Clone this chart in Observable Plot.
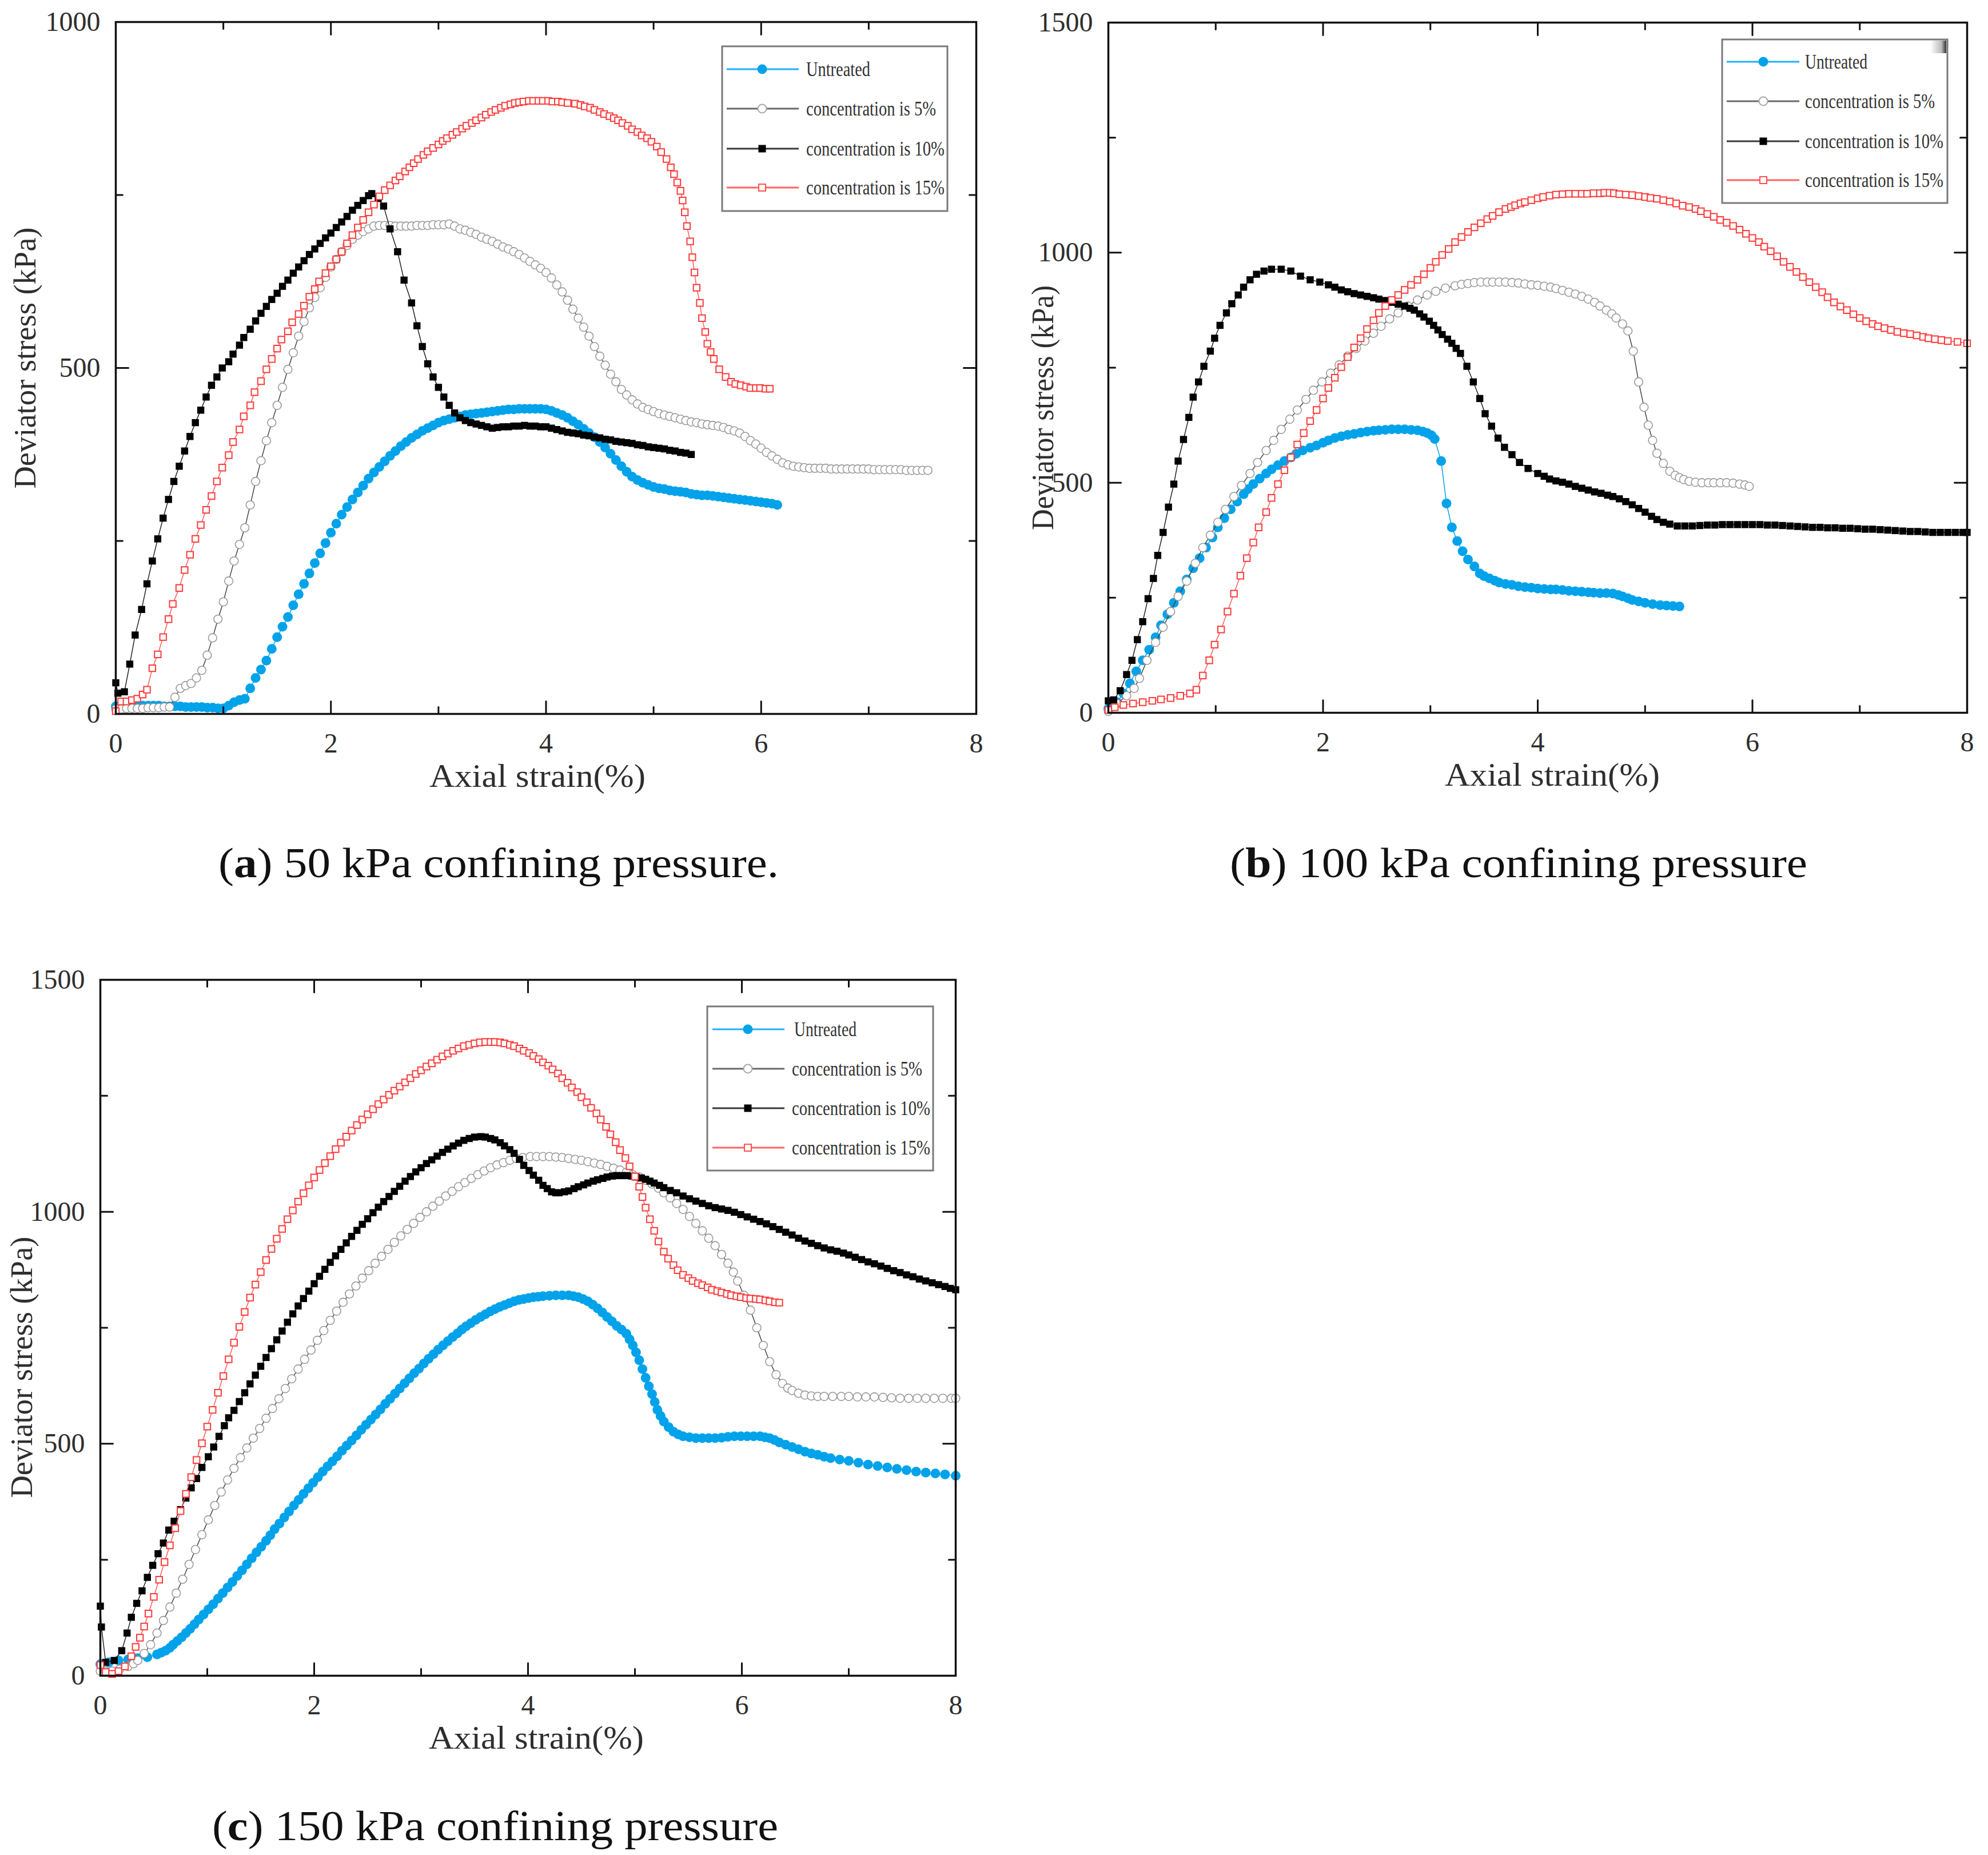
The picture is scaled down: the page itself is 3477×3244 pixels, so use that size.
<!DOCTYPE html>
<html><head><meta charset="utf-8">
<script src="https://cdn.jsdelivr.net/npm/d3@7"></script>
<script src="https://cdn.jsdelivr.net/npm/@observablehq/plot@0.6"></script>
<style>
html,body{margin:0;padding:0;background:#fff;}
#root{position:relative;width:3477px;height:3244px;background:#fff;overflow:hidden;}
.panel{position:absolute;}
#overlay{position:absolute;left:0;top:0;}
</style></head><body>
<div id="root">
<div id="pa" class="panel" style="left:0;top:0;width:1767px"></div>
<div id="pb" class="panel" style="left:1738px;top:0;width:1739px"></div>
<div id="pc" class="panel" style="left:0;top:1650px;width:1731px"></div>
<svg id="overlay" width="3477" height="3244" xmlns="http://www.w3.org/2000/svg"></svg>
</div>
<script>
// ---------- categories & tick labels ----------
const seriesNames = ["Untreated", "concentration is 5%", "concentration is 10%", "concentration is 15%"];
const captions = ["50 kPa confining pressure.", "100 kPa confining pressure", "150 kPa confining pressure"];
const captionLetters = ["a", "b", "c"];
const xLabel = "Axial strain(%)";
const yLabel = "Deviator stress (kPa)";
const xMajor = [0, 2, 4, 6, 8];
const xMinor = [1, 3, 5, 7];
const yMajorA = [0, 500, 1000];
const yMinorA = [250, 750];
const yMajorBC = [0, 500, 1000, 1500];
const yMinorBC = [250, 750, 1250];

// ---------- (a) 50 kPa ----------
const aU = [[0,11],[0.05,12],[0.1,12],[0.15,12],[0.2,12],[0.25,12],[0.3,12],[0.35,12],[0.4,12],[0.45,11],[0.5,11],[0.55,11],[0.6,11],[0.65,10],[0.7,10],[0.75,10],[0.8,10],[0.85,9],[0.9,9],[0.95,8],[1.0,8],[1.05,12],[1.1,17],[1.15,20],[1.2,22],[1.25,37],[1.3,52],[1.35,64],[1.4,77],[1.45,94],[1.5,111],[1.55,126],[1.6,140],[1.65,157],[1.7,173],[1.75,188],[1.8,203],[1.85,218],[1.9,232],[1.95,247],[2.0,262],[2.05,275],[2.1,288],[2.15,299],[2.2,310],[2.25,320],[2.3,330],[2.35,340],[2.4,349],[2.45,357],[2.5,365],[2.55,373],[2.6,380],[2.65,387],[2.7,393],[2.75,399],[2.8,404],[2.85,409],[2.9,413],[2.95,417],[3.0,421],[3.05,424],[3.1,426],[3.15,428],[3.2,430],[3.25,432],[3.3,433],[3.35,434],[3.4,435],[3.45,436],[3.5,437],[3.55,438],[3.6,439],[3.65,440],[3.7,440],[3.75,441],[3.8,441],[3.85,441],[3.9,441],[3.95,441],[4.0,440],[4.05,438],[4.1,435],[4.15,432],[4.2,428],[4.25,423],[4.3,418],[4.35,412],[4.4,406],[4.45,400],[4.5,393],[4.55,385],[4.6,376],[4.65,367],[4.7,358],[4.75,350],[4.8,343],[4.85,338],[4.9,334],[4.95,331],[5.0,328],[5.05,326],[5.1,325],[5.15,323],[5.2,322],[5.25,321],[5.3,320],[5.35,318],[5.4,317],[5.45,316],[5.5,316],[5.55,315],[5.6,314],[5.65,313],[5.7,312],[5.75,311],[5.8,310],[5.85,309],[5.9,308],[5.95,307],[6.0,306],[6.05,305],[6.1,304],[6.15,302]];
const a5 = [[0,7],[0.05,7],[0.1,8],[0.15,8],[0.2,8],[0.25,8],[0.3,9],[0.35,9],[0.4,9],[0.45,10],[0.5,10],[0.55,24],[0.6,37],[0.65,41],[0.7,44],[0.75,52],[0.8,63],[0.85,85],[0.9,110],[0.95,137],[1.0,162],[1.05,192],[1.1,221],[1.15,245],[1.2,269],[1.25,302],[1.3,336],[1.35,366],[1.4,395],[1.45,421],[1.5,446],[1.55,472],[1.6,498],[1.65,522],[1.7,546],[1.75,567],[1.8,587],[1.85,602],[1.9,616],[1.95,631],[2.0,646],[2.05,657],[2.1,668],[2.15,677],[2.2,686],[2.25,692],[2.3,697],[2.35,701],[2.4,705],[2.45,706],[2.5,706],[2.55,706],[2.6,705],[2.65,705],[2.7,705],[2.75,705],[2.8,706],[2.85,706],[2.9,706],[2.95,707],[3.0,707],[3.05,707],[3.1,708],[3.15,705],[3.2,701],[3.25,699],[3.3,696],[3.35,693],[3.4,689],[3.45,686],[3.5,683],[3.55,679],[3.6,675],[3.65,672],[3.7,668],[3.75,664],[3.8,659],[3.85,654],[3.9,649],[3.95,644],[4.0,638],[4.05,630],[4.1,620],[4.15,610],[4.2,598],[4.25,585],[4.3,572],[4.35,559],[4.4,546],[4.45,531],[4.5,517],[4.55,504],[4.6,491],[4.65,480],[4.7,469],[4.75,461],[4.8,454],[4.85,448],[4.9,443],[4.95,440],[5.0,437],[5.05,434],[5.1,432],[5.15,430],[5.2,428],[5.25,426],[5.3,424],[5.35,422],[5.4,421],[5.45,419],[5.5,418],[5.55,417],[5.6,416],[5.65,414],[5.7,411],[5.75,409],[5.8,406],[5.85,401],[5.9,395],[5.95,390],[6.0,384],[6.05,378],[6.1,373],[6.15,368],[6.2,363],[6.25,360],[6.3,358],[6.35,357],[6.4,356],[6.45,355],[6.5,355],[6.55,355],[6.6,355],[6.65,354],[6.7,354],[6.75,354],[6.8,354],[6.85,354],[6.9,354],[6.95,354],[7.0,354],[7.05,353],[7.1,353],[7.15,353],[7.2,353],[7.25,353],[7.3,353],[7.35,352],[7.4,352],[7.45,352],[7.5,352],[7.55,352]];
const a10 = [[0,45],[0.02,30],[0.08,32],[0.13,72],[0.18,114],[0.24,151],[0.29,188],[0.34,221],[0.39,253],[0.44,283],[0.49,310],[0.54,336],[0.59,358],[0.64,380],[0.69,401],[0.74,421],[0.79,439],[0.84,458],[0.89,475],[0.94,487],[0.99,500],[1.05,509],[1.09,520],[1.15,533],[1.19,544],[1.25,556],[1.3,568],[1.35,579],[1.4,589],[1.45,599],[1.5,608],[1.55,618],[1.6,627],[1.65,637],[1.7,646],[1.75,655],[1.8,664],[1.85,672],[1.9,680],[1.95,688],[2.0,695],[2.05,703],[2.1,711],[2.15,719],[2.2,728],[2.25,735],[2.3,742],[2.35,749],[2.38,752],[2.44,745],[2.49,734],[2.55,701],[2.62,668],[2.68,627],[2.75,594],[2.8,561],[2.85,531],[2.9,506],[2.95,487],[3.0,472],[3.05,458],[3.1,446],[3.15,435],[3.2,428],[3.25,424],[3.3,421],[3.35,419],[3.4,417],[3.45,415],[3.5,413],[3.55,414],[3.6,415],[3.65,415],[3.7,416],[3.75,416],[3.8,417],[3.85,416],[3.9,416],[3.95,415],[4.0,415],[4.05,413],[4.1,411],[4.15,409],[4.2,407],[4.25,406],[4.3,405],[4.35,403],[4.4,402],[4.45,400],[4.5,399],[4.55,397],[4.6,396],[4.65,394],[4.7,393],[4.75,392],[4.8,391],[4.85,389],[4.9,388],[4.95,386],[5.0,385],[5.05,384],[5.1,383],[5.15,381],[5.2,380],[5.25,378],[5.3,377],[5.35,375]];
const a15 = [[0,4],[0.05,18],[0.1,18],[0.15,20],[0.2,22],[0.25,28],[0.29,35],[0.34,66],[0.39,86],[0.44,111],[0.49,137],[0.53,159],[0.59,182],[0.64,208],[0.69,230],[0.74,253],[0.79,273],[0.84,295],[0.89,315],[0.94,336],[0.99,356],[1.05,374],[1.09,393],[1.15,411],[1.19,430],[1.25,446],[1.29,465],[1.35,481],[1.4,498],[1.45,513],[1.5,528],[1.54,541],[1.6,553],[1.64,566],[1.7,578],[1.75,590],[1.8,603],[1.85,614],[1.89,625],[1.95,637],[2.0,647],[2.05,657],[2.1,668],[2.15,680],[2.2,692],[2.25,703],[2.3,714],[2.35,725],[2.4,736],[2.45,748],[2.5,757],[2.55,764],[2.6,771],[2.64,777],[2.69,784],[2.73,790],[2.77,796],[2.81,802],[2.86,808],[2.9,813],[2.95,818],[3.0,823],[3.04,828],[3.08,832],[3.13,837],[3.17,841],[3.22,846],[3.26,850],[3.31,854],[3.35,858],[3.4,862],[3.44,866],[3.49,870],[3.53,873],[3.58,876],[3.62,879],[3.67,881],[3.71,883],[3.75,884],[3.79,885],[3.84,886],[3.88,886],[3.93,886],[3.97,886],[4.02,886],[4.06,885],[4.11,885],[4.15,884],[4.2,883],[4.27,882],[4.32,880],[4.36,878],[4.41,876],[4.45,873],[4.5,870],[4.54,867],[4.59,864],[4.63,861],[4.67,858],[4.71,854],[4.76,850],[4.8,845],[4.85,841],[4.89,836],[4.94,832],[4.98,827],[5.03,820],[5.07,812],[5.12,802],[5.16,790],[5.19,780],[5.22,768],[5.25,756],[5.27,742],[5.29,725],[5.31,705],[5.34,683],[5.36,660],[5.38,638],[5.4,616],[5.43,594],[5.45,572],[5.48,552],[5.5,535],[5.53,523],[5.56,513],[5.61,498],[5.67,487],[5.72,480],[5.76,477],[5.81,475],[5.86,473],[5.9,471],[5.95,471],[5.99,471],[6.04,470],[6.08,470]];

// ---------- (b) 100 kPa ----------
const bU = [[0,9],[0.08,23],[0.14,42],[0.2,64],[0.26,90],[0.32,114],[0.38,137],[0.44,164],[0.49,190],[0.55,214],[0.61,239],[0.67,264],[0.73,290],[0.79,314],[0.85,336],[0.91,359],[0.97,381],[1.02,403],[1.08,423],[1.14,442],[1.2,459],[1.26,475],[1.3,486],[1.35,497],[1.41,509],[1.47,520],[1.52,529],[1.58,538],[1.64,547],[1.7,555],[1.75,563],[1.81,570],[1.88,576],[1.94,581],[2.0,587],[2.05,592],[2.11,597],[2.17,601],[2.23,604],[2.29,606],[2.35,609],[2.41,611],[2.47,613],[2.52,614],[2.58,615],[2.64,616],[2.7,616],[2.76,616],[2.82,615],[2.88,614],[2.93,611],[2.97,608],[3.01,603],[3.04,595],[3.1,547],[3.15,455],[3.2,403],[3.25,373],[3.3,351],[3.35,333],[3.41,318],[3.46,303],[3.5,297],[3.55,292],[3.6,287],[3.64,283],[3.7,280],[3.76,278],[3.82,275],[3.88,273],[3.94,272],[4.0,270],[4.06,269],[4.12,268],[4.17,268],[4.23,267],[4.29,265],[4.35,264],[4.41,263],[4.47,262],[4.52,261],[4.58,260],[4.64,260],[4.7,259],[4.75,256],[4.79,253],[4.84,249],[4.88,245],[4.94,242],[5.0,239],[5.07,236],[5.14,234],[5.2,233],[5.26,232],[5.32,231]];
const b5 = [[0,3],[0.08,20],[0.17,37],[0.24,53],[0.29,75],[0.36,114],[0.44,153],[0.51,186],[0.58,220],[0.65,253],[0.73,286],[0.81,325],[0.88,359],[0.95,386],[1.02,414],[1.09,442],[1.17,470],[1.24,494],[1.32,520],[1.39,544],[1.47,570],[1.54,592],[1.61,616],[1.69,638],[1.76,658],[1.84,681],[1.91,701],[1.99,719],[2.07,738],[2.15,756],[2.23,775],[2.31,792],[2.39,808],[2.47,825],[2.54,840],[2.62,856],[2.7,869],[2.79,884],[2.88,897],[2.97,908],[3.05,916],[3.14,923],[3.23,928],[3.29,931],[3.35,933],[3.41,935],[3.47,936],[3.53,936],[3.58,936],[3.64,936],[3.7,936],[3.76,935],[3.82,934],[3.88,932],[3.94,930],[4.0,929],[4.06,927],[4.12,925],[4.17,922],[4.23,918],[4.29,914],[4.35,910],[4.41,905],[4.47,899],[4.53,892],[4.58,884],[4.64,875],[4.69,867],[4.73,858],[4.79,845],[4.84,830],[4.89,786],[4.94,719],[4.99,664],[5.03,625],[5.07,592],[5.11,564],[5.17,542],[5.23,525],[5.28,516],[5.32,511],[5.36,507],[5.41,503],[5.47,501],[5.53,500],[5.59,500],[5.64,500],[5.7,500],[5.76,500],[5.82,499],[5.88,497],[5.93,495],[5.97,492]];
const b10 = [[0,26],[0.05,28],[0.11,48],[0.17,83],[0.22,114],[0.27,159],[0.32,198],[0.37,248],[0.42,292],[0.46,342],[0.51,392],[0.56,447],[0.61,497],[0.65,547],[0.7,594],[0.75,642],[0.79,686],[0.84,719],[0.89,753],[0.95,786],[0.99,814],[1.04,842],[1.1,869],[1.15,889],[1.21,908],[1.26,925],[1.32,941],[1.38,953],[1.45,960],[1.52,964],[1.61,964],[1.7,960],[1.79,949],[1.88,941],[1.97,936],[2.05,930],[2.11,925],[2.17,919],[2.23,915],[2.29,911],[2.35,908],[2.41,905],[2.47,902],[2.52,899],[2.58,896],[2.64,892],[2.7,888],[2.76,884],[2.81,879],[2.85,875],[2.9,867],[2.94,860],[2.99,851],[3.03,842],[3.07,832],[3.11,822],[3.16,812],[3.2,803],[3.24,792],[3.28,781],[3.34,753],[3.4,719],[3.46,683],[3.51,650],[3.57,623],[3.63,597],[3.69,577],[3.76,561],[3.83,544],[3.91,531],[4.0,520],[4.06,514],[4.11,508],[4.17,504],[4.23,501],[4.29,497],[4.35,492],[4.41,488],[4.47,484],[4.53,480],[4.59,477],[4.65,473],[4.7,470],[4.76,465],[4.82,459],[4.88,452],[4.94,444],[5.0,436],[5.06,427],[5.11,420],[5.17,414],[5.23,410],[5.3,406],[5.37,406],[5.44,406],[5.51,407],[5.58,408],[5.65,408],[5.72,409],[5.79,409],[5.86,409],[5.93,409],[6.0,409],[6.07,409],[6.14,408],[6.21,408],[6.28,407],[6.35,406],[6.42,405],[6.49,404],[6.56,403],[6.63,403],[6.7,402],[6.77,402],[6.84,401],[6.91,401],[6.98,400],[7.05,399],[7.12,399],[7.19,398],[7.26,397],[7.33,396],[7.4,395],[7.47,394],[7.54,394],[7.61,393],[7.68,392],[7.75,392],[7.82,392],[7.89,392],[7.96,392],[8.0,392]];
const b15 = [[0,6],[0.06,12],[0.14,17],[0.23,20],[0.32,23],[0.41,26],[0.49,29],[0.58,32],[0.67,37],[0.76,42],[0.82,50],[0.88,81],[0.94,114],[0.99,148],[1.05,181],[1.11,220],[1.17,259],[1.23,298],[1.29,336],[1.35,370],[1.4,403],[1.47,436],[1.52,467],[1.58,497],[1.64,527],[1.7,555],[1.76,583],[1.82,608],[1.88,634],[1.94,658],[2.0,683],[2.05,706],[2.11,728],[2.17,751],[2.23,773],[2.29,794],[2.35,814],[2.41,834],[2.47,853],[2.52,869],[2.58,884],[2.64,897],[2.7,908],[2.76,919],[2.82,930],[2.88,941],[2.94,953],[3.0,967],[3.05,980],[3.11,995],[3.17,1008],[3.23,1023],[3.29,1034],[3.35,1045],[3.41,1055],[3.47,1064],[3.53,1073],[3.58,1080],[3.64,1088],[3.7,1095],[3.75,1099],[3.79,1103],[3.84,1107],[3.88,1110],[3.94,1114],[4.0,1118],[4.05,1121],[4.11,1124],[4.17,1126],[4.23,1127],[4.29,1128],[4.35,1128],[4.41,1128],[4.46,1128],[4.52,1129],[4.58,1129],[4.62,1130],[4.67,1130],[4.71,1129],[4.76,1127],[4.82,1126],[4.88,1125],[4.94,1123],[5.0,1121],[5.05,1119],[5.11,1117],[5.17,1114],[5.23,1111],[5.29,1107],[5.35,1102],[5.41,1099],[5.47,1095],[5.52,1090],[5.58,1084],[5.64,1078],[5.7,1071],[5.76,1065],[5.82,1058],[5.88,1050],[5.94,1041],[6.0,1032],[6.06,1023],[6.11,1013],[6.17,1003],[6.23,992],[6.29,980],[6.35,969],[6.41,958],[6.47,947],[6.53,936],[6.59,925],[6.65,914],[6.7,903],[6.76,892],[6.82,883],[6.88,875],[6.94,866],[7.0,858],[7.06,851],[7.12,845],[7.17,840],[7.23,836],[7.29,832],[7.35,828],[7.41,825],[7.47,823],[7.53,820],[7.59,817],[7.64,814],[7.7,812],[7.76,810],[7.82,808],[7.91,806],[8.0,803]];

// ---------- (c) 150 kPa ----------
const cU = [[0,25],[0.08,29],[0.17,33],[0.26,35],[0.35,38],[0.44,40],[0.53,46],[0.57,50],[0.61,54],[0.65,60],[0.68,67],[0.72,75],[0.76,83],[0.8,92],[0.84,101],[0.88,111],[0.92,121],[0.965,132],[1.01,143],[1.055,154],[1.1,166],[1.145,178],[1.19,190],[1.235,202],[1.28,215],[1.325,227],[1.37,240],[1.415,253],[1.46,266],[1.505,278],[1.55,291],[1.59,303],[1.63,316],[1.675,328],[1.72,341],[1.765,354],[1.81,367],[1.855,379],[1.9,392],[1.945,404],[1.99,416],[2.035,428],[2.08,440],[2.125,451],[2.17,462],[2.215,473],[2.26,485],[2.305,496],[2.35,507],[2.395,518],[2.44,530],[2.485,541],[2.53,552],[2.575,563],[2.62,574],[2.665,586],[2.71,597],[2.755,608],[2.8,619],[2.845,630],[2.89,641],[2.935,652],[2.98,662],[3.025,673],[3.07,683],[3.115,693],[3.16,703],[3.205,712],[3.25,721],[3.295,730],[3.34,738],[3.38,746],[3.42,753],[3.465,760],[3.51,767],[3.555,773],[3.6,779],[3.645,785],[3.69,790],[3.735,795],[3.78,799],[3.825,803],[3.87,807],[3.915,810],[3.96,812],[4.005,814],[4.05,816],[4.095,817],[4.14,818],[4.2,819],[4.26,820],[4.32,820],[4.38,820],[4.425,818],[4.47,816],[4.515,812],[4.56,807],[4.605,800],[4.65,792],[4.695,783],[4.74,773],[4.785,764],[4.83,754],[4.875,746],[4.92,737],[4.95,725],[4.98,712],[5.01,697],[5.04,680],[5.07,661],[5.1,642],[5.13,624],[5.16,607],[5.185,590],[5.21,573],[5.24,560],[5.27,548],[5.315,536],[5.36,526],[5.405,520],[5.45,516],[5.51,514],[5.57,512],[5.63,512],[5.69,512],[5.75,512],[5.81,513],[5.87,515],[5.93,516],[5.99,516],[6.05,516],[6.11,516],[6.17,516],[6.215,514],[6.26,512],[6.305,508],[6.35,503],[6.41,498],[6.47,493],[6.53,488],[6.59,483],[6.65,479],[6.71,476],[6.77,472],[6.83,469],[6.915,466],[7.0,463],[7.09,459],[7.18,455],[7.27,452],[7.36,449],[7.45,446],[7.54,443],[7.63,440],[7.72,438],[7.81,436],[7.9,434],[8.0,431]];
const c5 = [[0,10],[0.05,10],[0.11,10],[0.18,14],[0.26,20],[0.31,26],[0.35,33],[0.41,48],[0.47,67],[0.53,92],[0.59,119],[0.65,148],[0.71,178],[0.77,208],[0.83,240],[0.89,272],[0.95,304],[1.01,336],[1.07,367],[1.13,396],[1.19,422],[1.25,447],[1.31,470],[1.37,491],[1.43,512],[1.49,533],[1.55,555],[1.61,576],[1.67,597],[1.73,619],[1.79,640],[1.85,661],[1.91,682],[1.97,702],[2.03,723],[2.09,744],[2.15,766],[2.21,786],[2.27,805],[2.33,823],[2.39,840],[2.45,857],[2.51,873],[2.57,889],[2.63,904],[2.69,919],[2.75,934],[2.81,948],[2.87,962],[2.93,975],[2.99,988],[3.05,1000],[3.11,1012],[3.17,1023],[3.23,1034],[3.29,1044],[3.35,1054],[3.41,1063],[3.47,1072],[3.53,1080],[3.59,1088],[3.65,1095],[3.71,1101],[3.77,1106],[3.83,1111],[3.89,1115],[3.95,1117],[4.02,1119],[4.08,1119],[4.14,1119],[4.2,1119],[4.26,1118],[4.32,1117],[4.38,1115],[4.44,1113],[4.5,1111],[4.56,1108],[4.62,1105],[4.68,1102],[4.74,1098],[4.8,1094],[4.86,1090],[4.92,1085],[4.98,1080],[5.04,1075],[5.1,1068],[5.16,1060],[5.22,1051],[5.27,1041],[5.33,1030],[5.39,1018],[5.45,1005],[5.51,990],[5.57,975],[5.63,959],[5.69,943],[5.75,927],[5.81,908],[5.87,889],[5.92,870],[5.96,851],[6.02,820],[6.08,788],[6.14,750],[6.2,712],[6.26,677],[6.32,649],[6.38,630],[6.43,620],[6.47,615],[6.53,609],[6.59,605],[6.65,603],[6.71,602],[6.77,602],[6.85,602],[6.93,602],[7.0,602],[7.08,601],[7.16,601],[7.24,601],[7.32,600],[7.4,599],[7.48,598],[7.56,598],[7.64,598],[7.72,598],[7.8,598],[7.88,598],[7.96,598],[8.0,598]];
const c10 = [[0,150],[0.01,105],[0.05,29],[0.13,33],[0.2,54],[0.25,92],[0.29,126],[0.34,156],[0.39,183],[0.44,212],[0.49,238],[0.54,263],[0.59,286],[0.64,314],[0.69,333],[0.75,358],[0.8,383],[0.85,405],[0.9,425],[0.95,449],[1.01,472],[1.06,493],[1.11,516],[1.16,539],[1.2,556],[1.25,572],[1.3,591],[1.35,610],[1.4,629],[1.45,648],[1.5,667],[1.55,686],[1.6,705],[1.65,724],[1.7,743],[1.75,762],[1.8,780],[1.85,797],[1.9,813],[1.95,829],[2.0,845],[2.05,861],[2.1,876],[2.15,891],[2.2,905],[2.25,919],[2.3,933],[2.35,947],[2.4,960],[2.45,973],[2.5,985],[2.55,998],[2.6,1010],[2.65,1022],[2.7,1033],[2.75,1044],[2.8,1055],[2.85,1066],[2.9,1076],[2.95,1086],[3.0,1095],[3.05,1104],[3.1,1112],[3.15,1120],[3.2,1128],[3.25,1135],[3.3,1142],[3.35,1148],[3.4,1154],[3.45,1158],[3.5,1161],[3.56,1162],[3.6,1161],[3.65,1158],[3.69,1155],[3.74,1149],[3.78,1142],[3.83,1134],[3.87,1126],[3.92,1113],[3.96,1100],[4.01,1089],[4.05,1079],[4.1,1068],[4.14,1057],[4.18,1050],[4.22,1043],[4.26,1041],[4.29,1041],[4.34,1043],[4.38,1045],[4.43,1050],[4.47,1054],[4.52,1058],[4.56,1062],[4.61,1066],[4.65,1069],[4.7,1072],[4.74,1075],[4.79,1077],[4.83,1078],[4.88,1078],[4.92,1078],[4.97,1077],[5.01,1075],[5.06,1073],[5.1,1070],[5.14,1066],[5.18,1062],[5.23,1057],[5.27,1052],[5.33,1046],[5.39,1041],[5.45,1034],[5.51,1028],[5.57,1023],[5.63,1018],[5.69,1013],[5.75,1009],[5.81,1006],[5.87,1003],[5.93,999],[5.99,994],[6.05,989],[6.11,984],[6.17,979],[6.23,974],[6.29,968],[6.35,962],[6.41,956],[6.47,950],[6.53,943],[6.59,937],[6.65,932],[6.71,927],[6.77,922],[6.83,918],[6.89,915],[6.95,911],[7.0,907],[7.06,902],[7.12,897],[7.18,892],[7.24,888],[7.3,883],[7.36,878],[7.42,873],[7.48,869],[7.54,864],[7.6,860],[7.66,855],[7.72,851],[7.78,847],[7.84,843],[7.9,839],[7.95,835],[8.0,832]];
const c15 = [[0,23],[0.05,8],[0.11,4],[0.17,10],[0.23,20],[0.29,42],[0.33,62],[0.37,82],[0.41,106],[0.45,134],[0.5,170],[0.55,207],[0.6,245],[0.65,281],[0.7,318],[0.75,355],[0.8,392],[0.85,428],[0.9,465],[0.95,501],[1.0,537],[1.05,573],[1.1,610],[1.15,646],[1.2,682],[1.25,718],[1.3,752],[1.35,784],[1.4,815],[1.45,843],[1.5,870],[1.55,896],[1.6,920],[1.65,942],[1.7,963],[1.75,984],[1.8,1003],[1.85,1022],[1.9,1040],[1.95,1057],[2.0,1074],[2.05,1090],[2.1,1105],[2.15,1120],[2.2,1135],[2.25,1149],[2.3,1162],[2.35,1175],[2.4,1187],[2.45,1199],[2.5,1210],[2.55,1221],[2.6,1232],[2.65,1242],[2.7,1252],[2.75,1261],[2.8,1270],[2.85,1279],[2.9,1288],[2.95,1297],[3.0,1305],[3.05,1313],[3.1,1320],[3.15,1328],[3.2,1335],[3.25,1341],[3.3,1347],[3.35,1352],[3.4,1357],[3.45,1360],[3.5,1363],[3.55,1365],[3.6,1366],[3.65,1366],[3.69,1366],[3.74,1365],[3.78,1363],[3.83,1360],[3.87,1357],[3.92,1352],[3.96,1347],[4.01,1342],[4.05,1336],[4.1,1329],[4.14,1322],[4.19,1315],[4.23,1307],[4.28,1298],[4.32,1288],[4.37,1278],[4.41,1268],[4.46,1258],[4.5,1247],[4.55,1236],[4.59,1224],[4.64,1212],[4.68,1199],[4.73,1183],[4.77,1167],[4.82,1150],[4.86,1133],[4.91,1116],[4.95,1098],[5.0,1076],[5.04,1054],[5.07,1032],[5.1,1009],[5.14,984],[5.18,959],[5.22,936],[5.27,914],[5.31,899],[5.36,885],[5.4,874],[5.45,864],[5.5,857],[5.54,851],[5.59,846],[5.63,842],[5.68,837],[5.72,832],[5.77,829],[5.81,826],[5.86,823],[5.9,820],[5.95,818],[5.99,816],[6.04,814],[6.08,813],[6.13,812],[6.17,811],[6.22,809],[6.26,807],[6.31,805],[6.35,804]];

// ---------- styles & layout (not data) ----------
const FONT = "Liberation Serif";
const styles = [
  {line: "#00a2ea", symbol: "circle", r: 8.5, fill: "#00a2ea", stroke: "none", sw: 0},
  {line: "#444444", symbol: "circle", r: 7.3, fill: "#ffffff", stroke: "#9a9a9a", sw: 1.6},
  {line: "#222222", symbol: "square", r: 7.0, fill: "#000000", stroke: "none", sw: 0},
  {line: "#ff5a5a", symbol: "square", r: 6.4, fill: "#ffffff", stroke: "#ff3a3a", sw: 2}
];
const panels = [
  {el: "pa", series: [aU, a5, a10, a15], ymax: 1000, yMajor: yMajorA, yMinor: yMinorA, ml: 202, mt: 38, w: 1505, h: 1210, mr: 60, mb: 130},
  {el: "pb", series: [bU, b5, b10, b15], ymax: 1500, yMajor: yMajorBC, yMinor: yMinorBC, ml: 200, mt: 39, w: 1502, h: 1207, mr: 37, mb: 130},
  {el: "pc", series: [cU, c5, c10, c15], ymax: 1500, yMajor: yMajorBC, yMinor: yMinorBC, ml: 175, mt: 63, w: 1496, h: 1217, mr: 60, mb: 130}
];

const tickShape = {draw(ctx, l) { ctx.moveTo(0, 0); ctx.lineTo(0, -l); }};
function tickMarks(xs, ys, len, xmax, ymax) {
  const o = {length: len, anchor: "start", shape: tickShape, stroke: "#111", strokeWidth: 3};
  return [
    Plot.vector(xs, {...o, x: d => d, y: () => 0, rotate: 0}),
    Plot.vector(xs, {...o, x: d => d, y: () => ymax, rotate: 180}),
    Plot.vector(ys, {...o, x: () => 0, y: d => d, rotate: 90}),
    Plot.vector(ys, {...o, x: () => xmax, y: d => d, rotate: -90})
  ];
}

panels.forEach(p => {
  const marks = [];
  p.series.forEach((s, k) => {
    const st = styles[k];
    marks.push(Plot.line(s, {x: d => d[0], y: d => d[1], stroke: st.line, strokeWidth: 1.5}));
    marks.push(Plot.dot(s, {x: d => d[0], y: d => d[1], symbol: st.symbol, r: st.r, fill: st.fill, stroke: st.stroke, strokeWidth: st.sw}));
  });
  marks.push(Plot.frame({stroke: "#111", strokeWidth: 3.5}));
  marks.push(...tickMarks(xMajor, p.yMajor, 22, 8, p.ymax));
  marks.push(...tickMarks(xMinor, p.yMinor, 12, 8, p.ymax));
  marks.push(Plot.axisX({ticks: xMajor, tickSize: 0, tickPadding: 33, fontSize: 48, tickFormat: d => String(d), label: null, fill: "#2e2e2e"}));
  marks.push(Plot.axisY({ticks: p.yMajor, tickSize: 0, tickPadding: 27, fontSize: 48, tickFormat: d => String(d), label: null, fill: "#2e2e2e"}));
  const chart = Plot.plot({
    width: p.ml + p.w + p.mr, height: p.mt + p.h + p.mb,
    marginLeft: p.ml, marginRight: p.mr, marginTop: p.mt, marginBottom: p.mb,
    x: {domain: [0, 8]}, y: {domain: [0, p.ymax]},
    style: {fontFamily: FONT, background: "transparent", maxWidth: "none", color: "#2e2e2e"},
    marks
  });
  document.getElementById(p.el).appendChild(chart);
});

// ---------- overlay: axis titles, legends, captions ----------
const svg = d3.select("#overlay");
const axisTitles = [
  {t: xLabel, cx: 940, y: 1376, len: 378, rot: false},
  {t: xLabel, cx: 2715, y: 1374, len: 376, rot: false},
  {t: xLabel, cx: 938, y: 3058, len: 376, rot: false},
  {t: yLabel, cx: 62, y: 626, len: 457, rot: true},
  {t: yLabel, cx: 1842, y: 713, len: 428, rot: true},
  {t: yLabel, cx: 56, y: 2391, len: 457, rot: true}
];
axisTitles.forEach(a => {
  const t = svg.append("text").text(a.t)
    .attr("font-family", FONT).attr("fill", "#2e2e2e")
    .attr("font-size", a.rot ? 54 : 58)
    .attr("textLength", a.len).attr("lengthAdjust", "spacingAndGlyphs");
  if (a.rot) t.attr("transform", `translate(${a.cx},${a.y}) rotate(-90)`).attr("x", -a.len / 2).attr("y", 0);
  else t.attr("x", a.cx - a.len / 2).attr("y", a.y);
});

const legendBoxes = [
  {x: 1263, y: 81, w: 394, h: 288, rows: [121, 190, 260, 328], lx1: 1271, lx2: 1397, mx: 1333, tx: [1410, 1410, 1410, 1410], tl: [112, 227, 242, 242]},
  {x: 3012, y: 69, w: 394, h: 286, rows: [108, 177, 247, 315], lx1: 3020, lx2: 3147, mx: 3084, tx: [3157, 3157, 3157, 3157], tl: [109, 227, 242, 242]},
  {x: 1237, y: 1760, w: 395, h: 287, rows: [1800, 1869, 1938, 2007], lx1: 1246, lx2: 1372, mx: 1308, tx: [1389, 1385, 1385, 1385], tl: [109, 228, 242, 242]}
];
const legendLine = ["#1eb0ff", "#6a6a6a", "#3a3a3a", "#ff6464"];
const grad = svg.append("defs").append("linearGradient").attr("id", "cornerShade").attr("x1", 0).attr("x2", 1).attr("y1", 0).attr("y2", 0);
grad.append("stop").attr("offset", 0).attr("stop-color", "#ffffff");
grad.append("stop").attr("offset", 0.7).attr("stop-color", "#bbbbbb");
grad.append("stop").attr("offset", 1).attr("stop-color", "#333333");
legendBoxes.forEach((L, li) => {
  const g = svg.append("g");
  g.append("rect").attr("x", L.x).attr("y", L.y).attr("width", L.w).attr("height", L.h)
    .attr("fill", "#fff").attr("stroke", "#7a7a7a").attr("stroke-width", 3);
  if (li === 1) g.append("rect").attr("x", L.x + L.w - 30).attr("y", L.y + 2).attr("width", 28).attr("height", 22).attr("fill", "url(#cornerShade)");
  seriesNames.forEach((name, k) => {
    const y = L.rows[k];
    g.append("line").attr("x1", L.lx1).attr("x2", L.lx2).attr("y1", y).attr("y2", y)
      .attr("stroke", legendLine[k]).attr("stroke-width", 3);
    if (k === 0) g.append("circle").attr("cx", L.mx).attr("cy", y).attr("r", 8.5).attr("fill", "#00a2ea");
    if (k === 1) g.append("circle").attr("cx", L.mx).attr("cy", y).attr("r", 7.5).attr("fill", "#fff").attr("stroke", "#a8a8a8").attr("stroke-width", 2);
    if (k === 2) g.append("rect").attr("x", L.mx - 6.5).attr("y", y - 6.5).attr("width", 13).attr("height", 13).attr("fill", "#000");
    if (k === 3) g.append("rect").attr("x", L.mx - 6).attr("y", y - 6).attr("width", 12).attr("height", 12).attr("fill", "#fff").attr("stroke", "#ff5050").attr("stroke-width", 2);
    g.append("text").text(name).attr("x", L.tx[k]).attr("y", y + 12)
      .attr("font-family", FONT).attr("font-size", 35).attr("fill", "#333")
      .attr("textLength", L.tl[k]).attr("lengthAdjust", "spacingAndGlyphs");
  });
});

const captionPos = [
  {x: 382, y: 1534, len: 980},
  {x: 2151, y: 1534, len: 1010},
  {x: 371, y: 3218, len: 990}
];
captionPos.forEach((c, i) => {
  const t = svg.append("text").attr("x", c.x).attr("y", c.y)
    .attr("font-family", FONT).attr("font-size", 75).attr("fill", "#111")
    .attr("textLength", c.len).attr("lengthAdjust", "spacingAndGlyphs");
  t.append("tspan").text("(");
  t.append("tspan").attr("font-weight", "bold").text(captionLetters[i]);
  t.append("tspan").text(") " + captions[i]);
});
</script>
</body></html>
